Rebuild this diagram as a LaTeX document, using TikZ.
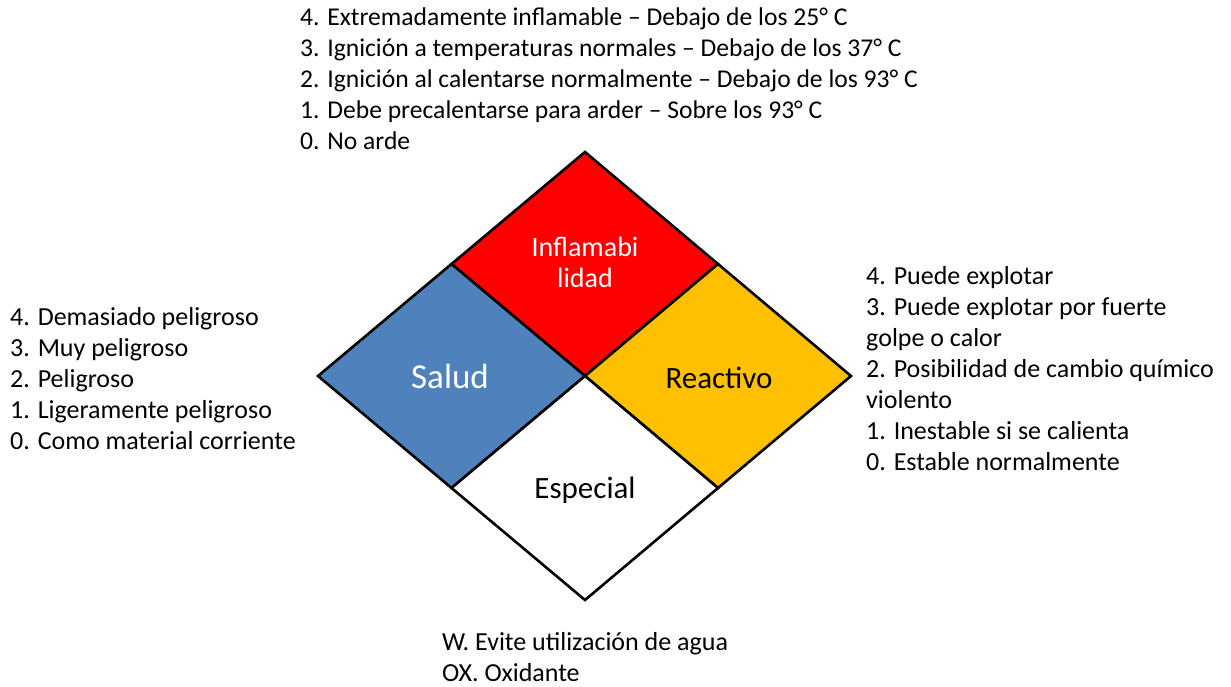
\documentclass[tikz,border=0pt]{standalone}
\usepackage{fontspec}
\setmainfont{Carlito}
\definecolor{nfpared}{HTML}{FF0000}
\definecolor{nfpablue}{HTML}{4F81BD}
\definecolor{nfpayellow}{HTML}{FFC000}
\begin{document}
\begin{tikzpicture}[
  x=1pt, y=-1pt,
  every node/.style={inner sep=0pt},
  notes/.style={align=left, anchor=base west, font=\fontsize{26}{31}\selectfont},
  rombo/.style={draw=black, line width=2.6pt, line join=miter},
  rlabel/.style={align=center, font=\fontsize{31}{31}\selectfont},
]
\useasboundingbox (0,0) rectangle (1231,687);

% vertices of the big diamond
\coordinate (top) at (585,152);
\coordinate (left) at (318,376);
\coordinate (right) at (851,376);
\coordinate (bot) at (585,600);
\coordinate (c) at (585,376);
\coordinate (tl) at (451.5,264);
\coordinate (tr) at (718,264);
\coordinate (bl) at (451.5,488);
\coordinate (br) at (718,488);

% the four quarters
\filldraw[rombo, fill=nfpared] (top) -- (tr) -- (c) -- (tl) -- cycle;
\filldraw[rombo, fill=nfpablue] (tl) -- (c) -- (bl) -- (left) -- cycle;
\filldraw[rombo, fill=nfpayellow] (tr) -- (right) -- (br) -- (c) -- cycle;
\filldraw[rombo, fill=white] (c) -- (br) -- (bot) -- (bl) -- cycle;

% labels inside
\node[rlabel, white, font=\fontsize{28}{31}\selectfont] (flam) at (585,262) {Inflamabi\\lidad};
\node[rlabel, white, font=\fontsize{35}{31}\selectfont] (salud) at (450,376) {Salud};
\node[rlabel] (reac) at (719,378) {Reactivo};
\node[rlabel] (esp) at (585,490) {Especial};

% explanations (anchored at the baseline of their last line)
\node[notes, font=\fontsize{25.6}{31.2}\selectfont] (ntop) at (300,150) {4. Extremadamente inflamable – Debajo de los 25° C\\
  3. Ignición a temperaturas normales – Debajo de los 37° C\\
  2. Ignición al calentarse normalmente – Debajo de los 93° C\\
  1. Debe precalentarse para arder – Sobre los 93° C\\
  0. No arde};
\node[notes] (nleft) at (10,449) {4. Demasiado peligroso\\
  3. Muy peligroso\\
  2. Peligroso\\
  1. Ligeramente peligroso\\
  0. Como material corriente};
\node[notes] (nright) at (866,470) {4. Puede explotar\\
  3. Puede explotar por fuerte\\
  golpe o calor\\
  2. Posibilidad de cambio químico\\
  violento\\
  1. Inestable si se calienta\\
  0. Estable normalmente};
\node[notes] (nbot) at (442,681) {W. Evite utilización de agua\\
  OX. Oxidante};

\end{tikzpicture}
\end{document}
